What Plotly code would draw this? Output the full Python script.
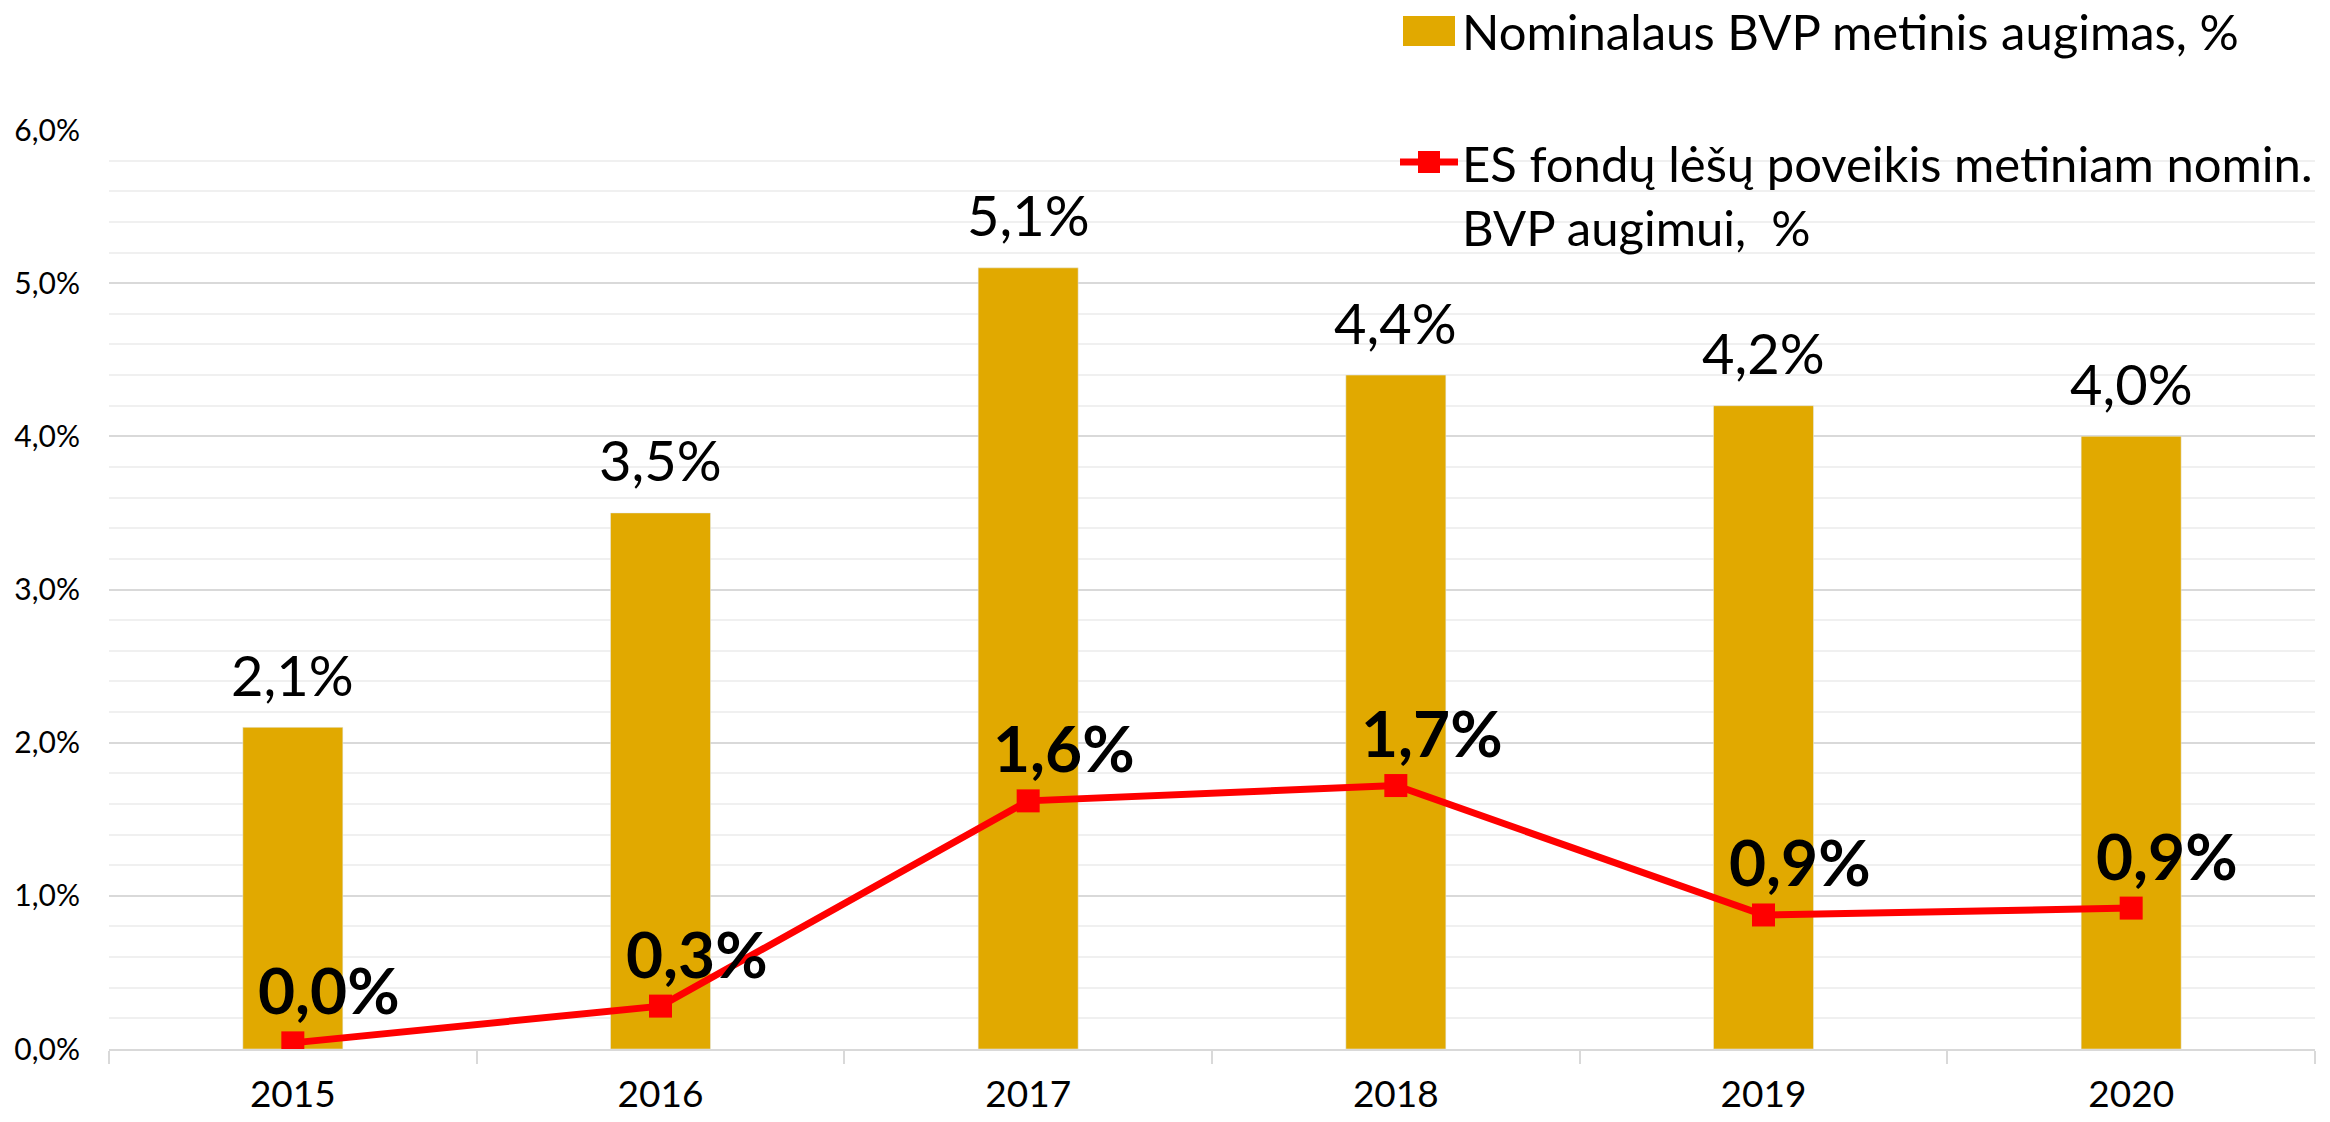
import plotly.graph_objects as go

# ---------------- data ----------------
years = ["2015", "2016", "2017", "2018", "2019", "2020"]
gdp_growth = [2.1, 3.5, 5.1, 4.4, 4.2, 4.0]
gdp_labels = ["2,1%", "3,5%", "5,1%", "4,4%", "4,2%", "4,0%"]
eu_impact = [0.04, 0.28, 1.62, 1.72, 0.875, 0.92]
eu_labels = ["0,0%", "0,3%", "1,6%", "1,7%", "0,9%", "0,9%"]
y_tick_vals = [0, 1, 2, 3, 4, 5, 6]
y_tick_text = ["0,0%", "1,0%", "2,0%", "3,0%", "4,0%", "5,0%", "6,0%"]
name_gdp = "Nominalaus BVP metinis augimas, %"
name_eu = "ES fondų lėšų poveikis metiniam nomin.<br>BVP augimui,\u00a0 %"

# ---------------- style ----------------
FONT = "Lato, Carlito, Calibri, sans-serif"
GOLD = "#E1A900"
RED = "#FF0000"
OFF = 8                      # default page (body) margin of the html page
W, H = 2330 - OFF, 1122 - OFF
L, R, T, B = 109 - OFF, 15, 130 - OFF, 73
PW, PH = W - L - R, H - T - B


def px(x):
    # page pixel x -> paper fraction
    return (x - OFF - L) / PW


def py(y):
    # page pixel y -> paper fraction
    return (H - B - (y - OFF)) / PH


fig = go.Figure()
fig.add_trace(go.Bar(
    x=years, y=gdp_growth, name=name_gdp, marker_color=GOLD,
    showlegend=False))
fig.add_trace(go.Scatter(
    x=years, y=eu_impact, name=name_eu, mode="lines+markers",
    line=dict(color=RED, width=7),
    marker=dict(symbol="square", size=23, color=RED),
    showlegend=False))

annotations = []
for i, (v, t) in enumerate(zip(gdp_growth, gdp_labels)):
    annotations.append(dict(
        x=i, y=v, xref="x", yref="y", text=t, showarrow=False,
        yanchor="middle", yshift=53,
        font=dict(family=FONT, size=56, color="#000000")))
for i, (v, t) in enumerate(zip(eu_impact, eu_labels)):
    annotations.append(dict(
        x=i, y=v, xref="x", yref="y", text="<b>" + t + "</b>", showarrow=False,
        yanchor="middle", yshift=53, xshift=36,
        font=dict(family=FONT, size=64, color="#000000")))

# manual legend (text as annotations, symbols as shapes)
annotations.append(dict(
    x=px(1460), y=py(31), xref="paper", yref="paper", text=name_gdp,
    showarrow=False, xanchor="left", yanchor="middle", align="left",
    font=dict(family=FONT, size=49, color="#000000")))
annotations.append(dict(
    x=px(1460), y=py(195), xref="paper", yref="paper", text=name_eu,
    showarrow=False, xanchor="left", yanchor="middle", align="left",
    font=dict(family=FONT, size=49, color="#000000")))

shapes = [
    dict(type="rect", xref="paper", yref="paper",
         x0=px(1403), x1=px(1455), y0=py(46), y1=py(16),
         fillcolor=GOLD, line=dict(width=0)),
    dict(type="line", xref="paper", yref="paper",
         x0=px(1400), x1=px(1458), y0=py(162), y1=py(162),
         line=dict(color=RED, width=7)),
    dict(type="rect", xref="paper", yref="paper",
         x0=px(1418), x1=px(1440), y0=py(173), y1=py(151),
         fillcolor=RED, line=dict(width=0)),
]

fig.update_layout(
    width=W, height=H,
    margin=dict(l=L, r=R, t=T, b=B, pad=0),
    paper_bgcolor="white", plot_bgcolor="white",
    font=dict(family=FONT, color="#000000"),
    bargap=0.728,
    annotations=annotations,
    shapes=shapes,
    xaxis=dict(
        type="category", range=[-0.5, len(years) - 0.5],
        showgrid=False, showline=True, automargin=False,
        linecolor="#D9D9D9", linewidth=2,
        ticks="outside", tickson="boundaries", ticklen=13,
        tickcolor="#D9D9D9", tickwidth=2, tickangle=0,
        tickfont=dict(family=FONT, size=37, color="#000000"),
        ticklabelstandoff=12, fixedrange=True),
    yaxis=dict(
        range=[0, 6], tickvals=y_tick_vals, ticktext=y_tick_text,
        showgrid=True, gridcolor="#D9D9D9", gridwidth=2, automargin=False,
        minor=dict(dtick=0.2, showgrid=True, gridcolor="#F0F0F0", gridwidth=2),
        zeroline=False, showline=False, ticks="",
        tickfont=dict(family=FONT, size=30, color="#000000"),
        ticklabelstandoff=28, fixedrange=True),
)

fig.write_html("out.html")
